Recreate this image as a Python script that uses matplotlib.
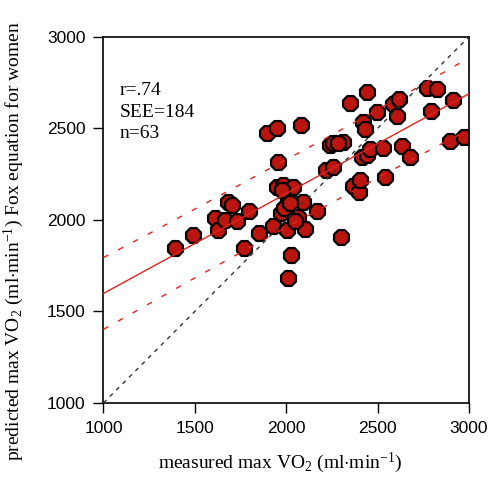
"""
Scatter of measured vs predicted max VO2 (Fox equation, women),
with regression line, +/- 1 SEE prediction band and line of identity.
"""

import numpy as np
import matplotlib
matplotlib.use("Agg")
import matplotlib.pyplot as plt

# measured max VO2 (ml/min)
measured = [
    1391, 1490, 1610, 1626, 1665, 1730, 1681, 1703, 1796, 1769,
    1851, 1927, 1971, 1987, 2004, 2064, 2102, 2168, 2299, 2026,
    2009, 2091, 2009, 1949, 1982, 2037, 1955, 1894, 1949, 2080,
    2217, 2255, 2365, 2398, 2403, 2540, 2239, 2255, 2310, 2414,
    2441, 2458, 2529, 2633, 2677, 2419, 2430, 2348, 2441, 2496,
    2584, 2616, 2605, 2770, 2824, 2912, 2791, 2895, 2972, 2047,
    1976, 2283, 2020,
]
# predicted max VO2 (ml/min) from the Fox equation
predicted = [
    1847, 1918, 2011, 1945, 2000, 1994, 2098, 2082, 2049, 1847,
    1929, 1967, 2038, 2065, 1945, 2016, 1951, 2049, 1907, 1809,
    1683, 2098, 2126, 2180, 2191, 2180, 2317, 2475, 2503, 2519,
    2273, 2290, 2186, 2153, 2218, 2235, 2410, 2421, 2426, 2344,
    2355, 2388, 2393, 2404, 2344, 2535, 2497, 2639, 2699, 2590,
    2634, 2661, 2568, 2721, 2716, 2656, 2595, 2432, 2453, 1994,
    2164, 2421, 2093,
]

# regression line: value at each end of the x range
fit_x = [1000, 3000]
fit_y = [1598, 2689]

# prediction band (+/- 1 SEE)
band_x = [1000, 1250, 1500, 1750, 2000, 2250, 2500, 2750, 3000]
band_upper = [1794, 1925, 2059, 2194, 2329, 2464, 2602, 2741, 2885]
band_lower = [1402, 1542, 1683, 1821, 1959, 2094, 2230, 2363, 2493]

identity = [1000, 3000]

stats_lines = ["r=.74", "SEE=184", "n=63"]

serif = ["Liberation Serif", "DejaVu Serif"]
narrow = ["Liberation Sans Narrow", "Liberation Sans", "DejaVu Sans"]

plt.rcParams["mathtext.fontset"] = "custom"
plt.rcParams["mathtext.rm"] = "Liberation Serif"
plt.rcParams["mathtext.it"] = "Liberation Serif:italic"

fig = plt.figure(figsize=(4.88, 4.78), dpi=100)
ax = fig.add_axes([0.212, 0.157, 0.749, 0.766])

ax.scatter(measured, predicted, s=135, marker="8", c="#BC140E",
           edgecolors="black", linewidths=1.6, zorder=2)

ax.plot(fit_x, fit_y, color="#E3241C", lw=1.0, zorder=3)
ax.plot(band_x, band_upper, color="#E3241C", lw=1.0,
        dashes=(4, 8), zorder=3)
ax.plot(band_x, band_lower, color="#E3241C", lw=1.0,
        dashes=(4, 8), zorder=3)
ax.plot(identity, identity, color="#333333", lw=1.0,
        dashes=(3, 3.5), zorder=3)

ax.set_xlim(1000, 3000)
ax.set_ylim(1000, 3000)
ax.set_xticks([1000, 1500, 2000, 2500, 3000])
ax.set_yticks([1000, 1500, 2000, 2500, 3000])
ax.tick_params(direction="out", length=7, width=1, pad=6,
               top=False, right=False)
for lab in ax.get_xticklabels() + ax.get_yticklabels():
    lab.set_family(narrow)
    lab.set_fontsize(12.5)
for sp in ax.spines.values():
    sp.set_linewidth(1.2)

for i, line in enumerate(stats_lines):
    ax.text(1090, 2680 - i * 117, line, family=serif, fontsize=14,
            va="baseline", ha="left")

fig.text(0.574, 0.031, r"measured max VO$_2$ (ml$\cdot$min$^{-1}$)",
         family=serif, fontsize=14, ha="center", va="center")
fig.text(0.029, 0.496,
         r"predicted max VO$_2$ (ml$\cdot$min$^{-1}$) Fox equation for women",
         family=serif, fontsize=14, ha="center", va="center", rotation=90)

fig.savefig("out.png", dpi=100)
